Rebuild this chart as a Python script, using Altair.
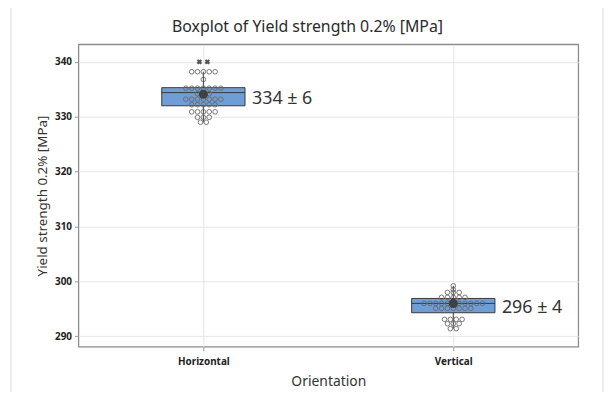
import altair as alt
import pandas as pd

categories = ["Horizontal", "Vertical"]
positions = [1, 2]

# dotplot rows: value and number of dots in the row
h_values = [338.2, 336.8, 335.2, 334.2, 333.2, 332.2, 330.9, 329.9, 329.0]
h_counts = [5, 1, 7, 3, 7, 5, 5, 3, 2]
v_values = [299.2, 298.5, 298.0, 297.1, 296.0, 295.1, 293.1, 292.3, 291.4]
v_counts = [1, 1, 3, 5, 11, 7, 4, 3, 2]

outlier_values = [340.0, 340.0]   # Horizontal outliers
outlier_offsets = [-1, 1]

q1 = [332.0, 294.3]
median = [334.4, 296.0]
q3 = [335.3, 296.9]
whisker_low = [329.0, 291.4]
whisker_high = [338.2, 299.2]
means = [334.1, 296.0]
labels = ["334 ± 6", "296 ± 4"]

FONT = "Noto Sans"
PX = 1.0 / 252.0          # one pixel in x data units
BOX_HALF = 42 * PX
STEP = 5.9 * PX

# summary table
summ = pd.DataFrame({
    "cat": categories, "pos": positions, "q1": q1, "median": median, "q3": q3,
    "lo": whisker_low, "hi": whisker_high, "mean": means, "label": labels,
})
summ["left"] = summ["pos"] - BOX_HALF
summ["right"] = summ["pos"] + BOX_HALF
summ["textx"] = summ["pos"] + 49 * PX

# dots table
rows = []
for pos, vals, cnts in [(1, h_values, h_counts), (2, v_values, v_counts)]:
    for v, n in zip(vals, cnts):
        for i in range(n):
            rows.append({"x": pos + (i - (n - 1) / 2) * STEP, "y": v})
dots = pd.DataFrame(rows)

outl = pd.DataFrame({"x": [1 + o * 4 * PX for o in outlier_offsets], "y": outlier_values})

label_expr = " : ".join(
    [f"datum.value == {p} ? '{c}'" for p, c in zip(positions, categories)] + ["''"]
)

xscale = alt.Scale(domain=[0.5, 2.5], nice=False, zero=False)
yscale = alt.Scale(domain=[288.1, 343.2], nice=False, zero=False)

xaxis = alt.Axis(
    values=positions, labelExpr=label_expr, title="Orientation",
    labelFont=FONT, labelFontSize=10, labelFontWeight="bold", labelColor="#222",
    titleFont=FONT, titleFontSize=14, titleFontWeight="normal", titleColor="#333",
    labelPadding=6, titlePadding=8, tickSize=4, tickColor="#999",
    grid=True, gridColor="#e6e6e6", domain=False,
)
yaxis = alt.Axis(
    values=[290, 300, 310, 320, 330, 340], title="Yield strength 0.2% [MPa]",
    labelFont=FONT, labelFontSize=10, labelFontWeight="bold", labelColor="#222",
    titleFont=FONT, titleFontSize=13.5, titleFontWeight="normal", titleColor="#333",
    labelPadding=3, titlePadding=5, tickSize=4, tickColor="#999",
    grid=True, gridColor="#e6e6e6", domain=False,
)

base = alt.Chart(summ)

frame = alt.Chart(pd.DataFrame({"a": [0]})).mark_rect(
    fill="transparent", stroke="#dcdcdc", strokeWidth=1
).encode(x=alt.value(-68), x2=alt.value(529), y=alt.value(-38), y2=alt.value(420))

box = base.mark_rect(fill="#6f9dd6", stroke="#3a3a3a", strokeWidth=1).encode(
    x=alt.X("left:Q", scale=xscale, axis=xaxis), x2="right:Q",
    y=alt.Y("q1:Q", scale=yscale, axis=yaxis), y2="q3:Q",
)
med = base.mark_rule(color="#3a3a3a", strokeWidth=1).encode(
    x=alt.X("left:Q", scale=xscale), x2="right:Q", y=alt.Y("median:Q", scale=yscale)
)
w_low = base.mark_rule(color="#3a3a3a", strokeWidth=1).encode(
    x=alt.X("pos:Q", scale=xscale), y=alt.Y("lo:Q", scale=yscale), y2="q1:Q"
)
w_high = base.mark_rule(color="#3a3a3a", strokeWidth=1).encode(
    x=alt.X("pos:Q", scale=xscale), y=alt.Y("q3:Q", scale=yscale), y2="hi:Q"
)
pts = alt.Chart(dots).mark_point(
    shape="circle", filled=False, size=22, stroke="#6a6a6a", strokeWidth=0.9, opacity=1
).encode(x=alt.X("x:Q", scale=xscale), y=alt.Y("y:Q", scale=yscale))
mean_pt = base.mark_point(shape="circle", filled=True, size=85, color="#404040", opacity=1).encode(
    x=alt.X("pos:Q", scale=xscale), y=alt.Y("mean:Q", scale=yscale)
)
out_pt = alt.Chart(outl).mark_point(
    shape="cross", filled=True, size=30, color="#555555", opacity=1, angle=45
).encode(x=alt.X("x:Q", scale=xscale), y=alt.Y("y:Q", scale=yscale))
txt = base.mark_text(
    align="left", baseline="middle", font=FONT, fontSize=18, color="#333", dy=5
).encode(x=alt.X("textx:Q", scale=xscale), y=alt.Y("mean:Q", scale=yscale), text="label:N")

title = alt.Chart(pd.DataFrame({"t": ["Boxplot of Yield strength 0.2% [MPa]"]})).mark_text(
    align="center", baseline="middle", font=FONT, fontSize=16, color="#2a2a2a"
).encode(x=alt.value(231), y=alt.value(-17), text="t:N")

chart = alt.layer(frame, box, med, w_low, w_high, pts, mean_pt, out_pt, txt, title).properties(
    width=504, height=305,
    autosize=alt.AutoSizeParams(type="none"),
    padding={"left": 71, "top": 35, "right": 30, "bottom": 44},
    background="white",
).configure_view(stroke="#8c8c8c", strokeWidth=1.3)

chart.save("out.html", embed_options={"renderer": "svg", "actions": False})
